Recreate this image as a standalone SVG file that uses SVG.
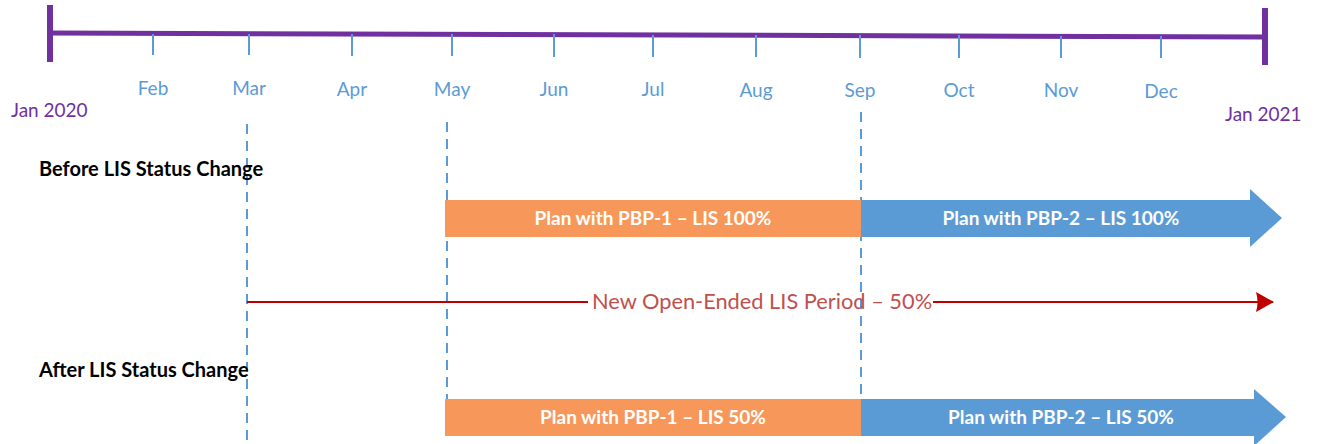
<svg xmlns="http://www.w3.org/2000/svg" width="1318" height="444" viewBox="0 0 1318 444">
<defs>
<style>
.tick{stroke:#5b9bd5;stroke-width:2}
.mon{font-family:Lato,"Liberation Sans",sans-serif;font-size:19px;fill:#5b9bd5;text-anchor:middle}
.yr{font-family:Lato,"Liberation Sans",sans-serif;font-size:19px;fill:#7030a0}
.hdr{font-family:Lato,"Liberation Sans",sans-serif;font-size:20px;font-weight:bold;fill:#000}
.dash{stroke:#5b9bd5;stroke-width:2;stroke-dasharray:10 7;fill:none}
.bar{font-family:Lato,"Liberation Sans",sans-serif;font-size:19px;font-weight:bold;fill:#fff;text-anchor:middle}
.red{font-family:Lato,"Liberation Sans",sans-serif;font-size:21.8px;fill:#c0504d}
</style>
<marker id="redArrow" markerWidth="18" markerHeight="20" refX="17" refY="10" orient="auto" markerUnits="userSpaceOnUse" viewBox="0 0 18 20">
<path d="M0,0 L18,10 L0,20 Q3,10 0,0 Z" fill="#c00000"/>
</marker>
</defs>
<g id="timeline">
<line x1="50" y1="33" x2="1265" y2="37" stroke="#7030a0" stroke-width="5"/>
<line x1="50" y1="5" x2="50" y2="62" stroke="#7030a0" stroke-width="6"/>
<line x1="1265" y1="8" x2="1265" y2="65" stroke="#7030a0" stroke-width="6"/>
<line class="tick" x1="153" y1="34" x2="153" y2="55"/>
<line class="tick" x1="249" y1="34" x2="249" y2="55"/>
<line class="tick" x1="352" y1="34" x2="352" y2="56"/>
<line class="tick" x1="452" y1="34" x2="452" y2="56"/>
<line class="tick" x1="554" y1="34" x2="554" y2="57"/>
<line class="tick" x1="653" y1="35" x2="653" y2="57"/>
<line class="tick" x1="756" y1="35" x2="756" y2="57"/>
<line class="tick" x1="860" y1="35" x2="860" y2="58"/>
<line class="tick" x1="959" y1="35" x2="959" y2="58"/>
<line class="tick" x1="1061" y1="36" x2="1061" y2="58"/>
<line class="tick" x1="1161" y1="36" x2="1161" y2="58"/>
<text class="mon" x="153" y="95">Feb</text>
<text class="mon" x="249" y="95">Mar</text>
<text class="mon" x="352" y="96">Apr</text>
<text class="mon" x="452" y="96">May</text>
<text class="mon" x="554" y="96">Jun</text>
<text class="mon" x="653" y="96">Jul</text>
<text class="mon" x="756" y="97">Aug</text>
<text class="mon" x="860" y="97">Sep</text>
<text class="mon" x="959" y="97">Oct</text>
<text class="mon" x="1061" y="97">Nov</text>
<text class="mon" x="1161" y="98">Dec</text>
<text class="yr" x="11" y="117">Jan 2020</text>
<text class="yr" x="1225" y="121">Jan 2021</text>
</g>
<g id="guides">
<line class="dash" x1="247" y1="124" x2="247" y2="440"/>
<line class="dash" x1="447" y1="122" x2="447" y2="400"/>
<line class="dash" x1="861" y1="112" x2="861" y2="400"/>
</g>
<g id="label-before">
<text class="hdr" x="39" y="176">Before LIS Status Change</text>
</g>
<g id="before-pbp1">
<rect x="445" y="200" width="416" height="37" fill="#f8975a"/>
<text class="bar" x="653" y="225">Plan with PBP-1 – LIS 100%</text>
</g>
<g id="before-pbp2">
<path d="M861,200 H1250 V189 L1282,218 L1250,247 V237 H861 Z" fill="#5b9bd5"/>
<text class="bar" x="1061" y="225">Plan with PBP-2 – LIS 100%</text>
</g>
<g id="connectors">
<line x1="247" y1="302" x2="588" y2="302" stroke="#c00000" stroke-width="2"/>
<line x1="933" y1="302" x2="1273" y2="302" stroke="#c00000" stroke-width="2" marker-end="url(#redArrow)"/>
</g>
<g id="lis-period">
<text class="red" x="592" y="309">New Open-Ended LIS Period – 50%</text>
</g>
<g id="label-after">
<text class="hdr" x="39" y="377">After LIS Status Change</text>
</g>
<g id="after-pbp1">
<rect x="445" y="399" width="416" height="37" fill="#f8975a"/>
<text class="bar" x="653" y="424">Plan with PBP-1 – LIS 50%</text>
</g>
<g id="after-pbp2">
<path d="M861,399 H1254 V389 L1286,417 L1254,446 V436 H861 Z" fill="#5b9bd5"/>
<text class="bar" x="1061" y="424">Plan with PBP-2 – LIS 50%</text>
</g>
</svg>
